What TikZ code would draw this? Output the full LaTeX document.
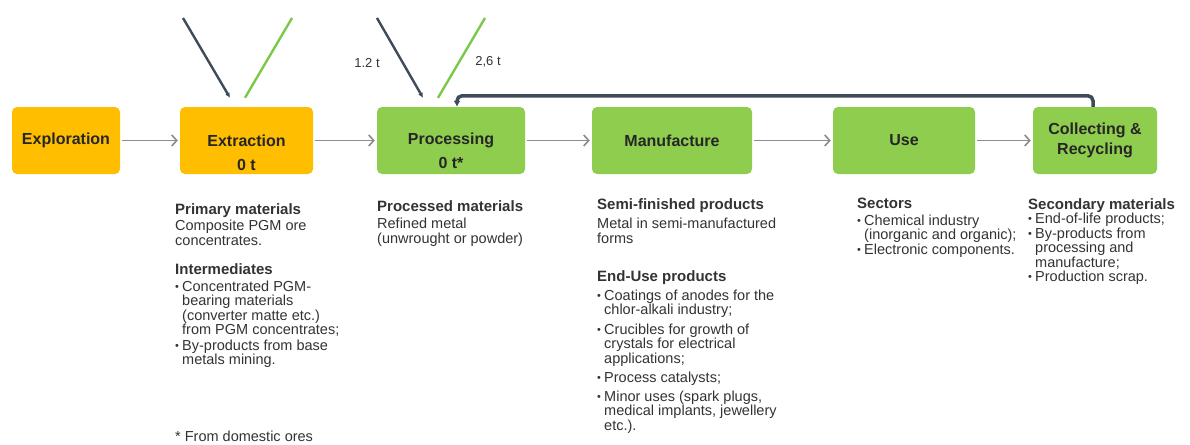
\documentclass[tikz,border=0pt]{standalone}
\usepackage{fontspec}
\setmainfont{Liberation Sans}
\usetikzlibrary{arrows.meta}

\definecolor{pgmorange}{HTML}{FFBE00}
\definecolor{pgmgreen}{HTML}{8FCD4F}
\definecolor{flowgrey}{HTML}{8C8C8C}
\definecolor{loopdark}{HTML}{3F4B5B}
\definecolor{inputgreen}{HTML}{7CC94A}
\definecolor{bodytext}{HTML}{333333}

\newcommand{\bul}{\makebox[7pt][l]{\raisebox{0.12ex}{\scalebox{0.75}{•}}}}
\newcommand{\hang}{\hspace*{7pt}}
\newcommand{\hd}[1]{{\fontsize{15}{15}\selectfont\bfseries #1}}

\begin{document}
\begin{tikzpicture}[x=1pt,y=-1pt,
	stage/.style={rounded corners=5pt,minimum height=67pt,inner sep=0pt,align=center,
		text=black!85,font=\fontsize{16}{20}\selectfont\bfseries},
	ore/.style={stage,fill=pgmorange},
	lime/.style={stage,fill=pgmgreen},
	amount/.style={font=\fontsize{16}{20}\selectfont\bfseries,text=black!85,inner sep=0pt},
	flow/.style={draw=flowgrey,line width=1.6pt,-{Straight Barb[length=5pt,width=11pt]},
		shorten >=2pt,shorten <=2pt},
	feedin/.style={draw=loopdark,line width=2.4pt,-{Latex[length=5pt,width=5pt]}},
	feedout/.style={draw=inputgreen,line width=2.4pt},
	backloop/.style={draw=loopdark,line width=3.5pt,rounded corners=5pt,-{Latex[length=6pt,width=7pt]}},
	qty/.style={font=\fontsize{13}{15}\selectfont,text=bodytext},
	notes/.style={anchor=north west,inner sep=0pt,align=left,text=bodytext,
		font=\fontsize{14.5}{14.5}\selectfont},
]
	\useasboundingbox[fill=white] (0,0) rectangle (1190,444);

	% stages
	\node[ore,minimum width=108pt] (explo) at (66,140.5) {Exploration};
	\node[ore,minimum width=133pt] (extr) at (246.5,140.5) {Extraction};
	\node[lime,minimum width=148pt] (proc) at (451,140.5) {Processing};
	\node[lime,minimum width=160pt] (manuf) at (672,140.5) {Manufacture};
	\node[lime,minimum width=142pt] (use) at (904,140.5) {Use};
	\node[lime,minimum width=124pt] (recyc) at (1095,140.5) {Collecting \&\\Recycling};
	\node[amount] (extrqty) at (246.5,165) {0 t};
	\node[amount] (procqty) at (451,163) {0 t*};

	\draw[flow] (explo) -- (extr);
	\draw[flow] (extr) -- (proc);
	\draw[flow] (proc) -- (manuf);
	\draw[flow] (manuf) -- (use);
	\draw[flow] (use) -- (recyc);

	% imports and exports
	\coordinate (extrin) at (183,18);
	\coordinate (extrout) at (292,18);
	\coordinate (procin) at (377,18);
	\coordinate (procout) at (485,18);
	\draw[feedin] (extrin) -- ([xshift=-16.5pt,yshift=9pt]extr.north);
	\draw[feedout] ([xshift=-1.5pt,yshift=9pt]extr.north) -- (extrout);
	\draw[feedin] (procin) -- ([xshift=-28pt,yshift=9pt]proc.north);
	\draw[feedout] ([xshift=-13pt,yshift=9pt]proc.north) -- (procout);
	\node[qty] (imptxt) at (367,63) {1.2 t};
	\node[qty] (exptxt) at (488,62) {2,6 t};

	\draw[backloop] ([xshift=-2pt]recyc.north) -- ++(0,-11) -| ([xshift=6pt]proc.north);

	% material notes
	\node[notes] (extrnotes) at (175,203) {\hd{Primary materials}\\[2pt]
		Composite PGM ore\\
		concentrates.\\[15pt]
		\hd{Intermediates}\\[2pt]
		\bul Concentrated PGM-\\
		\hang bearing materials\\
		\hang (converter matte etc.)\\
		\hang from PGM concentrates;\\[1pt]
		\bul By-products from base\\
		\hang metals mining.};
	\node[notes] (footnote) at (175,431) {* From domestic ores};
	\node[notes] (procnotes) at (377,200) {\hd{Processed materials}\\[3pt]
		Refined metal\\
		(unwrought or powder)};
	\node[notes] (manufnotes) at (597,198) {\hd{Semi-finished products}\\[5pt]
		Metal in semi-manufactured\\
		forms\\[24pt]
		\hd{End-Use products}\\[4pt]
		\bul Coatings of anodes for the\\
		\hang chlor-alkali industry;\\[5pt]
		\bul Crucibles for growth of\\
		\hang crystals for electrical\\
		\hang applications;\\[5pt]
		\bul Process catalysts;\\[4pt]
		\bul Minor uses (spark plugs,\\
		\hang medical implants, jewellery\\
		\hang etc.).};
	\node[notes] (usenotes) at (857,198) {\hd{Sectors}\\[2pt]
		\bul Chemical industry\\
		\hang (inorganic and organic);\\
		\bul Electronic components.};
	\node[notes] (recycnotes) at (1028,198) {\hd{Secondary materials}\\[0pt]
		\bul End-of-life products;\\
		\bul By-products from\\
		\hang processing and\\
		\hang manufacture;\\
		\bul Production scrap.};
\end{tikzpicture}
\end{document}
